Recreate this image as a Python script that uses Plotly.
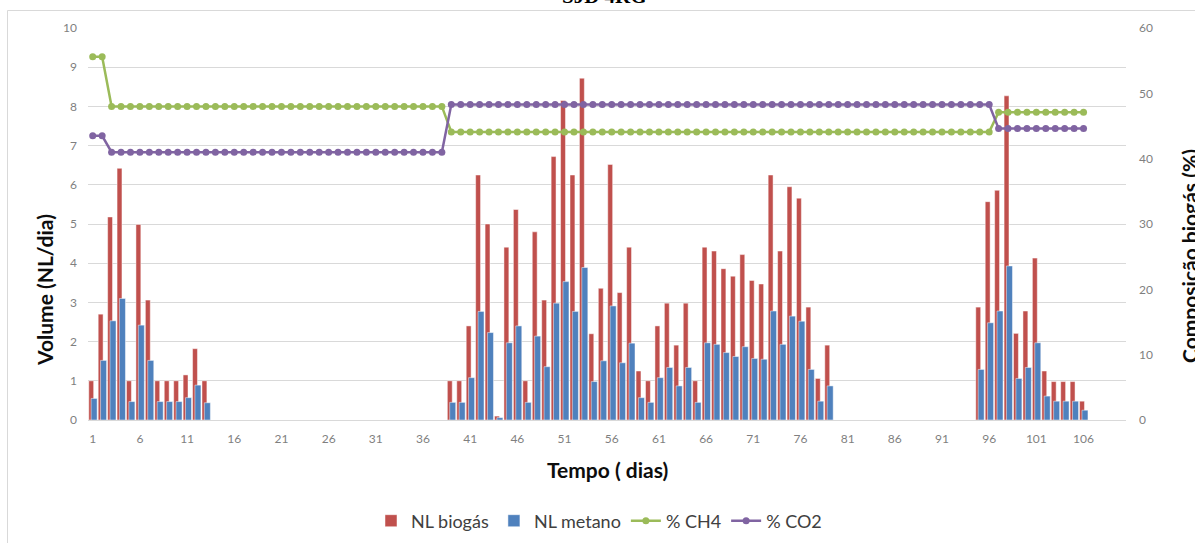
import plotly.graph_objects as go

# Dias do ensaio (1 a 106)
dias = list(range(1, 107))

# Produção diária de biogás (NL/dia); None = sem registo
nl_biogas = [
    1.00, 2.70, 5.18, 6.42, 1.00, 4.99, 3.06, 1.00, 1.00, 1.00,
    1.15, 1.82, 1.00, None, None, None, None, None, None, None,
    None, None, None, None, None, None, None, None, None, None,
    None, None, None, None, None, None, None, None, 1.00, 1.00,
    2.40, 6.25, 5.00, 0.10, 4.41, 5.37, 1.00, 4.80, 3.06, 6.72,
    8.15, 6.25, 8.72, 2.20, 3.36, 6.52, 3.25, 4.41, 1.25, 1.00,
    2.40, 2.98, 1.91, 2.98, 1.00, 4.41, 4.31, 3.86, 3.67, 4.22,
    3.56, 3.47, 6.25, 4.31, 5.95, 5.66, 2.88, 1.06, 1.91, None,
    None, None, None, None, None, None, None, None, None, None,
    None, None, None, None, 2.88, 5.57, 5.86, 8.27, 2.21, 2.78,
    4.13, 1.25, 0.98, 0.98, 0.98, 0.48,
]

# Produção diária de metano (NL/dia)
nl_metano = [
    0.55, 1.52, 2.53, 3.10, 0.47, 2.42, 1.52, 0.47, 0.47, 0.47,
    0.57, 0.89, 0.44, None, None, None, None, None, None, None,
    None, None, None, None, None, None, None, None, None, None,
    None, None, None, None, None, None, None, None, 0.45, 0.45,
    1.08, 2.77, 2.23, 0.06, 1.97, 2.40, 0.45, 2.14, 1.36, 2.98,
    3.53, 2.77, 3.89, 0.98, 1.51, 2.91, 1.46, 1.96, 0.57, 0.45,
    1.08, 1.34, 0.87, 1.34, 0.45, 1.97, 1.93, 1.72, 1.62, 1.87,
    1.57, 1.55, 2.78, 1.93, 2.65, 2.52, 1.29, 0.48, 0.87, None,
    None, None, None, None, None, None, None, None, None, None,
    None, None, None, None, 1.29, 2.48, 2.78, 3.93, 1.06, 1.34,
    1.97, 0.61, 0.48, 0.48, 0.48, 0.25,
]

# Composição do biogás (%)
pct_ch4 = [
    55.6, 55.6, 48.0, 48.0, 48.0, 48.0, 48.0, 48.0, 48.0, 48.0,
    48.0, 48.0, 48.0, 48.0, 48.0, 48.0, 48.0, 48.0, 48.0, 48.0,
    48.0, 48.0, 48.0, 48.0, 48.0, 48.0, 48.0, 48.0, 48.0, 48.0,
    48.0, 48.0, 48.0, 48.0, 48.0, 48.0, 48.0, 48.0, 44.1, 44.1,
    44.1, 44.1, 44.1, 44.1, 44.1, 44.1, 44.1, 44.1, 44.1, 44.1,
    44.1, 44.1, 44.1, 44.1, 44.1, 44.1, 44.1, 44.1, 44.1, 44.1,
    44.1, 44.1, 44.1, 44.1, 44.1, 44.1, 44.1, 44.1, 44.1, 44.1,
    44.1, 44.1, 44.1, 44.1, 44.1, 44.1, 44.1, 44.1, 44.1, 44.1,
    44.1, 44.1, 44.1, 44.1, 44.1, 44.1, 44.1, 44.1, 44.1, 44.1,
    44.1, 44.1, 44.1, 44.1, 44.1, 44.1, 47.1, 47.1, 47.1, 47.1,
    47.1, 47.1, 47.1, 47.1, 47.1, 47.1,
]

pct_co2 = [
    43.5, 43.5, 41.0, 41.0, 41.0, 41.0, 41.0, 41.0, 41.0, 41.0,
    41.0, 41.0, 41.0, 41.0, 41.0, 41.0, 41.0, 41.0, 41.0, 41.0,
    41.0, 41.0, 41.0, 41.0, 41.0, 41.0, 41.0, 41.0, 41.0, 41.0,
    41.0, 41.0, 41.0, 41.0, 41.0, 41.0, 41.0, 41.0, 48.3, 48.3,
    48.3, 48.3, 48.3, 48.3, 48.3, 48.3, 48.3, 48.3, 48.3, 48.3,
    48.3, 48.3, 48.3, 48.3, 48.3, 48.3, 48.3, 48.3, 48.3, 48.3,
    48.3, 48.3, 48.3, 48.3, 48.3, 48.3, 48.3, 48.3, 48.3, 48.3,
    48.3, 48.3, 48.3, 48.3, 48.3, 48.3, 48.3, 48.3, 48.3, 48.3,
    48.3, 48.3, 48.3, 48.3, 48.3, 48.3, 48.3, 48.3, 48.3, 48.3,
    48.3, 48.3, 48.3, 48.3, 48.3, 48.3, 44.6, 44.6, 44.6, 44.6,
    44.6, 44.6, 44.6, 44.6, 44.6, 44.6,
]

# Marcas do eixo dos dias
tick_dias = [1, 6, 11, 16, 21, 26, 31, 36, 41, 46, 51, 56, 61, 66, 71, 76, 81, 86, 91, 96, 101, 106]

FONT = "Lato"
TICK_FONT = dict(family=FONT, size=12, color="#7F7F7F")
TITLE_FONT = dict(family=FONT, size=21, color="#0D0D0D")
GRID = "#D9D9D9"

fig = go.Figure()

fig.add_trace(go.Bar(
    x=dias, y=nl_biogas, name="NL biogás",
    marker=dict(color="#C0504D", line=dict(color="rgba(255,255,255,0.6)", width=0.8)),
    width=0.52, offset=-0.42, yaxis="y",
))
fig.add_trace(go.Bar(
    x=dias, y=nl_metano, name="NL metano",
    marker=dict(color="#4F81BD", line=dict(color="rgba(255,255,255,0.6)", width=0.8)),
    width=0.64, offset=-0.17, yaxis="y",
))
fig.add_trace(go.Scatter(
    x=dias, y=pct_ch4, name="% CH4", mode="lines+markers",
    line=dict(color="#9BBB59", width=2.5),
    marker=dict(color="#9BBB59", size=7),
    yaxis="y2",
))
fig.add_trace(go.Scatter(
    x=dias, y=pct_co2, name="% CO2", mode="lines+markers",
    line=dict(color="#8064A2", width=2.5),
    marker=dict(color="#8064A2", size=7),
    yaxis="y2",
))

# Moldura do gráfico (em coordenadas de papel)
L, R, T, B = 88, 1126, 28, 420
W, H = R - L, B - T


def px(xp):
    return (xp - L) / W


def py(yp):
    return (B - yp) / H


shapes = [
    dict(type="line", xref="paper", yref="paper", x0=px(7.5), x1=px(1195), y0=py(10.5), y1=py(10.5),
         line=dict(color=GRID, width=1)),
    dict(type="line", xref="paper", yref="paper", x0=px(7.5), x1=px(7.5), y0=py(10.5), y1=py(543),
         line=dict(color=GRID, width=1)),
]

annotations = [
    dict(text="<b>SJD 4RG</b>", xref="paper", yref="paper", x=px(604), y=py(10), xanchor="center",
         yanchor="bottom", showarrow=False, font=dict(family="Liberation Serif", size=21, color="#000000")),
    dict(text="<b>Volume (NL/dia)</b>", xref="paper", yref="paper", x=px(44), y=py(290), textangle=-90,
         xanchor="center", yanchor="middle", showarrow=False, font=TITLE_FONT),
    dict(text="<b>Composição biogás (%)</b>", xref="paper", yref="paper", x=px(1189), y=py(256), textangle=-90,
         xanchor="center", yanchor="middle", showarrow=False, font=TITLE_FONT),
    dict(text="<b>Tempo ( dias)</b>", xref="paper", yref="paper", x=px(607), y=py(469),
         xanchor="center", yanchor="middle", showarrow=False, font=TITLE_FONT),
]

fig.update_layout(
    width=1195, height=543,
    margin=dict(l=L, r=1195 - R, t=T, b=543 - B, pad=0, autoexpand=False),
    paper_bgcolor="white", plot_bgcolor="white",
    barmode="overlay",
    showlegend=True,
    legend=dict(orientation="h", x=px(599), xanchor="center", y=py(521), yanchor="middle",
                font=dict(family=FONT, size=18, color="#404040"), bgcolor="rgba(0,0,0,0)",
                itemwidth=30, traceorder="normal"),
    xaxis=dict(range=[0.5, 110.5], tickmode="array", tickvals=tick_dias,
               ticktext=[str(t) for t in tick_dias], showgrid=False, zeroline=False,
               showline=True, linecolor=GRID, linewidth=1, ticks="", tickfont=TICK_FONT,
               ticklabelstandoff=8, automargin=False),
    yaxis=dict(range=[0, 10], dtick=1, showgrid=True, gridcolor=GRID, gridwidth=1, zeroline=False,
               showline=False, ticks="", tickfont=TICK_FONT, ticklabelstandoff=10, automargin=False),
    yaxis2=dict(range=[0, 60], dtick=10, overlaying="y", side="right", showgrid=False, zeroline=False,
                showline=False, ticks="", tickfont=TICK_FONT, ticklabelstandoff=12, automargin=False),
    shapes=shapes,
    annotations=annotations,
)

fig.write_html("out.html")
